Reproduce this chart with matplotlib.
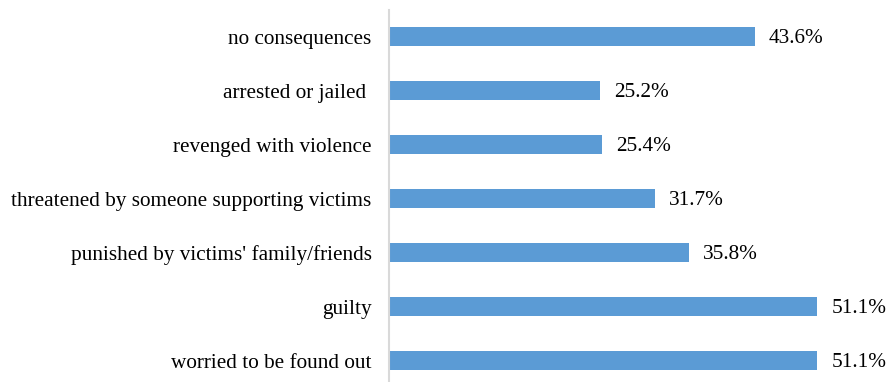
import matplotlib
matplotlib.use("Agg")
import matplotlib.pyplot as plt

categories = [
    "no consequences",
    "arrested or jailed ",
    "revenged with violence",
    "threatened by someone supporting victims",
    "punished by victims' family/friends",
    "guilty",
    "worried to be found out",
]
values = [43.6, 25.2, 25.4, 31.7, 35.8, 51.1, 51.1]

plt.rcParams["font.family"] = ["Liberation Serif", "DejaVu Serif"]

W, H = 892, 382
fig = plt.figure(figsize=(W / 100, H / 100), dpi=100)
left = 389 / W
top = 9.5 / H
bottom = 387.5 / H
ax = fig.add_axes([left, 1 - bottom, 1 - left, bottom - top])

ypos = list(range(len(categories)))
ax.barh(ypos, values, height=0.35, color="#5B9BD5")
ax.set_xlim(0, 60)
ax.set_ylim(len(categories) - 0.5, -0.5)

for y, v in zip(ypos, values):
    ax.text(v + 1.7, y + 0.04, f"{v:.1f}%", va="center", ha="left", fontsize=15.3)

ax.set_yticks(ypos)
ax.set_yticklabels(categories, fontsize=15.3)
ax.tick_params(axis="y", length=0, pad=12.5)
ax.set_xticks([])
for s in ["top", "right", "bottom"]:
    ax.spines[s].set_visible(False)
ax.spines["left"].set_color("#D9D9D9")
ax.spines["left"].set_linewidth(1.5)

fig.savefig("out.png", dpi=100)
